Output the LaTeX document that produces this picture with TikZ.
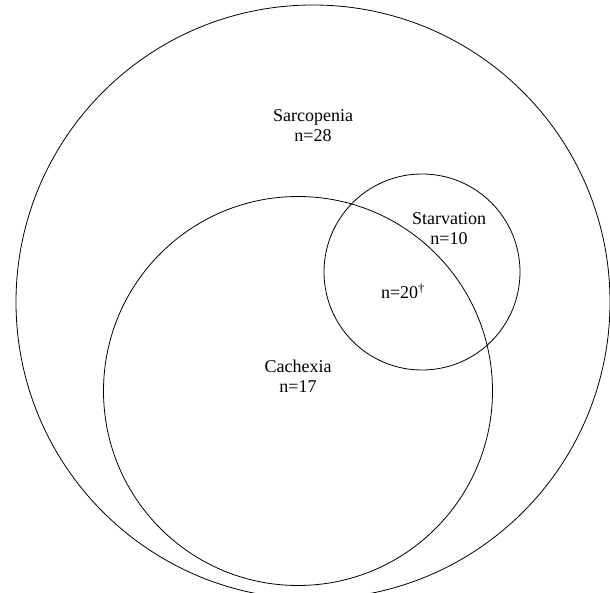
\documentclass[tikz,border=0pt]{standalone}
\usepackage{fontspec}
\setmainfont{Liberation Serif}
\usepackage{xcolor}
\usepackage{tikz}
\usetikzlibrary{shapes.geometric, positioning, calc}

\begin{document}
\begin{tikzpicture}[x=1pt, y=-1pt,
    setcircle/.style={circle, draw=black, line width=0.8pt, inner sep=0pt},
    setlabel/.style={align=center, font=\fontsize{18}{20}\selectfont, inner sep=0pt}]
    \useasboundingbox (0,0) rectangle (610,593);

    % sets
    \node[setcircle, minimum size=594pt] (sarcopenia) at (313,302) {};
    \node[setcircle, minimum size=389pt] (cachexia) at (298,391) {};
    \node[setcircle, minimum size=196pt] (starvation) at (422,272) {};

    % counts
    \node[setlabel] (sarcopeniaText) at (313,126) {Sarcopenia\\n=28};
    \node[setlabel] (cachexiaText) at (298,376) {Cachexia\\n=17};
    \node[setlabel] (starvationText) at (449,229) {Starvation\\n=10};
    \node[setlabel] (overlapText) at (403,291) {n=20\textsuperscript{\dag}};
\end{tikzpicture}
\end{document}
